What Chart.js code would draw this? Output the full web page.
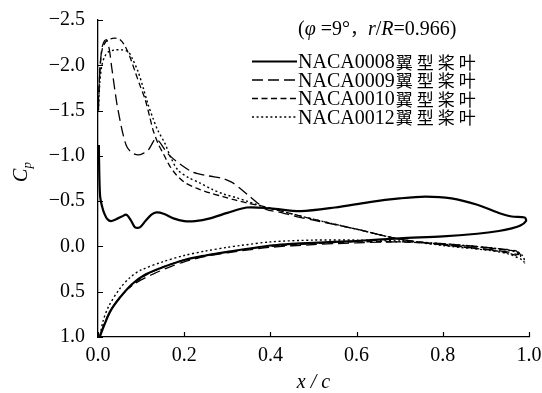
<!DOCTYPE html>
<html>
<head>
<meta charset="utf-8">
<script src="https://cdn.jsdelivr.net/npm/chart.js@4/dist/chart.umd.min.js"></script>
<style>
  html, body { margin: 0; padding: 0; background: #fff; }
</style>
</head>
<body>
<canvas id="cpChart" width="542" height="393"></canvas>
<script>
// pressure coefficient along the chord, suction side from leading edge to trailing edge,
// then pressure side back to the leading edge: [x/c, Cp]
const naca0008Upper = [[0.002,-1.12],[0.003,-0.8],[0.005,-0.55],[0.009,-0.45],[0.015,-0.36],[0.022,-0.3],[0.03,-0.28],[0.042,-0.3],[0.055,-0.33],[0.066,-0.35],[0.076,-0.29],[0.086,-0.21],[0.097,-0.21],[0.11,-0.28],[0.124,-0.35],[0.136,-0.375],[0.152,-0.36],[0.175,-0.31],[0.2,-0.28],[0.225,-0.28],[0.26,-0.31],[0.3,-0.37],[0.345,-0.43],[0.4,-0.42],[0.47,-0.39],[0.55,-0.43],[0.63,-0.49],[0.7,-0.53],[0.76,-0.55],[0.82,-0.53],[0.88,-0.46],[0.93,-0.37],[0.96,-0.33],[0.99,-0.32]];
const naca0008Lower = [[0.993,-0.28],[0.98,-0.23],[0.96,-0.2],[0.93,-0.17],[0.88,-0.14],[0.8,-0.11],[0.7,-0.09],[0.6,-0.06],[0.5,-0.04],[0.44,-0.025],[0.4,-0.01],[0.3,0.06],[0.25,0.1],[0.2,0.15],[0.15,0.23],[0.11,0.31],[0.078,0.42],[0.05,0.57],[0.028,0.72],[0.012,0.9],[0.004,1.0]];

const naca0009Upper = [[0.001,-1.5],[0.004,-1.9],[0.009,-2.19],[0.015,-2.27],[0.02,-2.28],[0.026,-2.18],[0.032,-1.97],[0.043,-1.6],[0.05,-1.42],[0.058,-1.24],[0.067,-1.1],[0.08,-1.03],[0.094,-1.01],[0.106,-1.03],[0.116,-1.06],[0.125,-1.13],[0.132,-1.18],[0.14,-1.17],[0.155,-1.07],[0.167,-1.0],[0.19,-0.91],[0.22,-0.82],[0.255,-0.78],[0.29,-0.75],[0.31,-0.71],[0.33,-0.64],[0.35,-0.56],[0.37,-0.48],[0.39,-0.41],[0.42,-0.38],[0.46,-0.33],[0.5,-0.29],[0.6,-0.19],[0.7,-0.08],[0.8,-0.02],[0.9,0.03],[0.95,0.06],[0.975,0.09]];
const naca0009Lower = [[0.97,0.05],[0.94,0.03],[0.9,0.01],[0.8,-0.03],[0.7,-0.05],[0.6,-0.04],[0.5,-0.02],[0.4,0.01],[0.3,0.07],[0.25,0.11],[0.2,0.17],[0.17,0.22],[0.13,0.3],[0.1,0.37],[0.08,0.43],[0.06,0.51],[0.04,0.63],[0.025,0.75],[0.012,0.88],[0.004,1.0]];

const naca0010Upper = [[0.001,-1.6],[0.005,-2.0],[0.01,-2.18],[0.018,-2.26],[0.028,-2.29],[0.04,-2.3],[0.052,-2.28],[0.063,-2.21],[0.075,-2.08],[0.086,-1.93],[0.098,-1.77],[0.109,-1.63],[0.12,-1.43],[0.128,-1.28],[0.14,-1.13],[0.152,-1.02],[0.165,-0.9],[0.18,-0.8],[0.2,-0.71],[0.23,-0.64],[0.26,-0.59],[0.29,-0.55],[0.32,-0.51],[0.345,-0.48],[0.376,-0.45],[0.4,-0.42],[0.45,-0.36],[0.5,-0.3],[0.6,-0.19],[0.7,-0.08],[0.8,-0.015],[0.9,0.035],[0.95,0.07],[0.98,0.11]];
const naca0010Lower = [[0.975,0.06],[0.95,0.04],[0.9,0.015],[0.8,-0.025],[0.7,-0.05],[0.6,-0.05],[0.5,-0.03],[0.4,0.0],[0.3,0.06],[0.25,0.1],[0.2,0.15],[0.15,0.23],[0.11,0.32],[0.078,0.43],[0.05,0.57],[0.028,0.72],[0.012,0.89],[0.004,1.0]];

const naca0012Upper = [[0.001,-1.5],[0.004,-1.8],[0.009,-2.0],[0.016,-2.1],[0.025,-2.15],[0.04,-2.17],[0.055,-2.17],[0.07,-2.15],[0.08,-2.07],[0.093,-1.93],[0.105,-1.75],[0.116,-1.57],[0.128,-1.41],[0.139,-1.28],[0.155,-1.14],[0.17,-0.97],[0.186,-0.84],[0.21,-0.76],[0.237,-0.7],[0.265,-0.63],[0.29,-0.58],[0.32,-0.54],[0.345,-0.5],[0.37,-0.46],[0.4,-0.42],[0.45,-0.36],[0.5,-0.3],[0.6,-0.19],[0.7,-0.08],[0.8,-0.01],[0.9,0.04],[0.95,0.08],[0.985,0.15],[0.99,0.18]];
const naca0012Lower = [[0.985,0.1],[0.96,0.05],[0.9,0.01],[0.8,-0.03],[0.7,-0.06],[0.6,-0.07],[0.5,-0.07],[0.4,-0.05],[0.33,-0.01],[0.3,0.01],[0.25,0.05],[0.2,0.1],[0.15,0.17],[0.1,0.26],[0.075,0.34],[0.05,0.47],[0.025,0.66],[0.012,0.82],[0.004,1.0]];

const seriesNames = ['NACA0008', 'NACA0009', 'NACA0010', 'NACA0012'];
const seriesSuffix = '翼型桨叶';
const xTickStep = 0.2;
const yTickStep = 0.5;

const SERIF = "'Liberation Serif', serif";
const CJK = "'Noto Sans CJK SC', sans-serif";
const TICK_LEN = 5;

const lineStyles = [
    { width: 2.2, dash: [] },
    { width: 1.3, dash: [11, 5] },
    { width: 1.3, dash: [6, 3.5] },
    { width: 1.4, dash: [2, 2.6] }
];

const curves = [
    [naca0008Upper, naca0008Lower],
    [naca0009Upper, naca0009Lower],
    [naca0010Upper, naca0010Lower],
    [naca0012Upper, naca0012Lower]
];

const datasets = curves.map(([upper, lower], i) => ({
    label: seriesNames[i] + seriesSuffix,
    data: [...upper, ...lower].map(([x, y]) => ({ x, y })),
    showLine: true,
    borderColor: '#000',
    borderWidth: lineStyles[i].width,
    borderDash: lineStyles[i].dash,
    pointRadius: 0,
    tension: 0.3,
    fill: false
}));

const fmtTick = v => (v < -1e-9 ? '\u2212' : '') + Math.abs(v).toFixed(1);

// draws a run of [text, font] pieces starting at x, returns the end x
function drawRuns(ctx, runs, x, y) {
    runs.forEach(([text, font]) => {
        ctx.font = font;
        ctx.fillText(text, x, y);
        x += ctx.measureText(text).width;
    });
    return x;
}

// CJK characters spaced on a fixed advance
function drawCjk(ctx, text, x, y, size, advance) {
    ctx.font = size + 'px ' + CJK;
    [...text].forEach((ch, k) => ctx.fillText(ch, x + k * advance, y));
}

const decorations = {
    id: 'decorations',
    afterDraw(chart) {
        const { ctx, chartArea: area, scales: { x, y } } = chart;
        ctx.save();
        ctx.strokeStyle = '#000';
        ctx.fillStyle = '#000';

        // inward tick marks
        ctx.lineWidth = 1.2;
        ctx.beginPath();
        x.ticks.forEach(t => {
            const px = Math.round(x.getPixelForValue(t.value)) + 0.5;
            ctx.moveTo(px, area.bottom);
            ctx.lineTo(px, area.bottom - TICK_LEN);
        });
        y.ticks.forEach(t => {
            const py = Math.round(y.getPixelForValue(t.value)) + 0.5;
            ctx.moveTo(area.left, py);
            ctx.lineTo(area.left + TICK_LEN, py);
        });
        ctx.stroke();

        // axis titles
        ctx.textBaseline = 'alphabetic';
        ctx.font = 'italic 20px ' + SERIF;
        const xTitle = 'x / c';
        const xw = ctx.measureText(xTitle).width;
        ctx.fillText(xTitle, (area.left + area.right) / 2 - xw / 2, 388);

        ctx.save();
        ctx.translate(27, 172);
        ctx.rotate(-Math.PI / 2);
        ctx.font = 'italic 20px ' + SERIF;
        const cw = ctx.measureText('C').width;
        ctx.font = 'italic 13px ' + SERIF;
        const pw = ctx.measureText('p').width;
        const sx = -(cw + pw) / 2;
        ctx.font = 'italic 20px ' + SERIF;
        ctx.fillText('C', sx, 0);
        ctx.font = 'italic 13px ' + SERIF;
        ctx.fillText('p', sx + cw, 4);
        ctx.restore();

        // condition note
        const up = '20px ' + SERIF, it = 'italic 20px ' + SERIF;
        let nx = drawRuns(ctx, [['(', up], ['\u03C6', it], [' =9\u00B0', up]], 298, 35);
        ctx.font = '18px ' + CJK;
        ctx.fillText('\uFF0C', nx, 35);
        nx += 18;
        drawRuns(ctx, [['r', it], ['/', up], ['R', it], ['=0.966)', up]], nx, 35);

        // legend
        const legendX0 = 252, legendX1 = 297, textX = 298;
        const baselines = [68, 86.5, 105, 123.5];
        seriesNames.forEach((name, i) => {
            const by = baselines[i];
            const ly = by - 6.5;
            ctx.lineWidth = lineStyles[i].width;
            ctx.setLineDash(lineStyles[i].dash);
            ctx.beginPath();
            ctx.moveTo(legendX0, ly);
            ctx.lineTo(legendX1, ly);
            ctx.stroke();
            ctx.setLineDash([]);
            ctx.font = '20px ' + SERIF;
            ctx.fillText(name, textX, by);
            const nw = ctx.measureText(name).width;
            drawCjk(ctx, seriesSuffix, textX + nw + 1, by + 0.5, 17, 21);
        });
        ctx.restore();
    }
};

new Chart(document.getElementById('cpChart'), {
    type: 'scatter',
    data: { datasets },
    options: {
        responsive: false,
        animation: false,
        devicePixelRatio: 1,
        layout: { padding: { top: 20, right: 0, left: 0, bottom: 0 } },
        plugins: { legend: { display: false }, tooltip: { enabled: false } },
        scales: {
            x: {
                type: 'linear',
                min: 0, max: 1,
                grid: { display: false, drawTicks: false },
                border: { display: true, color: '#000', width: 1.3 },
                ticks: { stepSize: xTickStep, color: '#000', padding: 7, maxRotation: 0, font: { family: SERIF, size: 20 }, callback: v => fmtTick(v) },
                afterFit: s => { s.height = 56; s.paddingRight = 13; s.paddingLeft = 0; }
            },
            y: {
                type: 'linear',
                min: -2.5, max: 1.0,
                reverse: true,
                grid: { display: false, drawTicks: false },
                border: { display: true, color: '#000', width: 1.3 },
                ticks: { stepSize: yTickStep, color: '#000', padding: 13, font: { family: SERIF, size: 20 }, callback: v => fmtTick(v) },
                afterFit: s => { s.width = 98; s.paddingTop = 0; s.paddingBottom = 0; }
            }
        }
    },
    plugins: [decorations]
});
</script>
</body>
</html>
